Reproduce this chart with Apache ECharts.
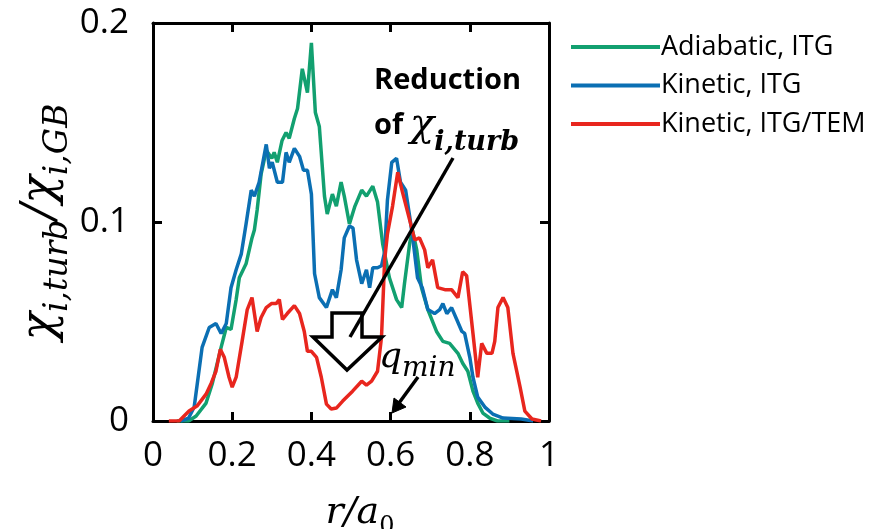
<!DOCTYPE html>
<html><head><meta charset="utf-8">
<script src="https://cdn.jsdelivr.net/npm/echarts@6/dist/echarts.min.js"></script>
<style>html,body{margin:0;background:#fff}#c{width:879px;height:529px}</style>
</head><body><div id="c"></div>
<script>
// ---- data (r/a0 and chi_i,turb/chi_i,GB) ----
const seriesNames = ['Adiabatic, ITG', 'Kinetic, ITG', 'Kinetic, ITG/TEM'];

const rAdiabatic = [0.06,0.09,0.109,0.134,0.15,0.172,0.185,0.197,0.21,0.218,0.235,0.25,0.256,0.263,0.273,0.286,0.3,0.306,0.314,0.326,0.336,0.344,0.357,0.365,0.377,0.39,0.40,0.41,0.42,0.433,0.44,0.453,0.463,0.475,0.483,0.496,0.51,0.527,0.539,0.555,0.567,0.58,0.597,0.615,0.628,0.635,0.648,0.655,0.666,0.678,0.694,0.716,0.732,0.749,0.77,0.782,0.795,0.808,0.82,0.833,0.85,0.87,0.9];
const chiAdiabatic = [0,0,0.0025,0.009,0.019,0.037,0.047,0.046,0.061,0.072,0.079,0.092,0.096,0.106,0.124,0.136,0.132,0.135,0.130,0.141,0.145,0.142,0.152,0.157,0.177,0.165,0.190,0.155,0.148,0.113,0.104,0.114,0.108,0.12,0.113,0.099,0.108,0.116,0.113,0.118,0.11,0.089,0.072,0.061,0.057,0.069,0.089,0.096,0.086,0.067,0.056,0.045,0.04,0.039,0.034,0.029,0.025,0.015,0.009,0.004,0.0015,0,0];

const rKinetic = [0.07,0.09,0.104,0.116,0.124,0.142,0.159,0.172,0.185,0.197,0.21,0.223,0.235,0.248,0.256,0.268,0.286,0.294,0.301,0.314,0.327,0.336,0.344,0.357,0.37,0.38,0.39,0.40,0.408,0.42,0.438,0.453,0.463,0.475,0.483,0.496,0.505,0.514,0.527,0.539,0.547,0.555,0.567,0.577,0.585,0.592,0.603,0.615,0.625,0.638,0.648,0.656,0.668,0.68,0.694,0.711,0.724,0.732,0.742,0.754,0.767,0.78,0.787,0.8,0.808,0.82,0.838,0.858,0.884,0.93,0.96];
const chiKinetic = [0,0.0015,0.007,0.025,0.037,0.047,0.049,0.044,0.049,0.067,0.076,0.084,0.099,0.116,0.113,0.12,0.139,0.127,0.13,0.12,0.12,0.135,0.13,0.137,0.133,0.126,0.126,0.114,0.074,0.062,0.057,0.066,0.062,0.076,0.092,0.098,0.097,0.081,0.069,0.076,0.067,0.077,0.077,0.078,0.085,0.111,0.13,0.132,0.12,0.116,0.103,0.092,0.072,0.067,0.056,0.054,0.056,0.059,0.054,0.057,0.051,0.045,0.044,0.032,0.022,0.012,0.007,0.0035,0.0015,0.001,0];

const rTem = [0.04,0.066,0.091,0.111,0.134,0.147,0.159,0.17,0.18,0.192,0.2,0.21,0.225,0.238,0.25,0.263,0.273,0.286,0.299,0.311,0.319,0.327,0.339,0.357,0.37,0.382,0.39,0.40,0.413,0.425,0.438,0.45,0.463,0.479,0.504,0.527,0.539,0.552,0.567,0.577,0.585,0.592,0.605,0.618,0.63,0.643,0.661,0.673,0.686,0.694,0.706,0.719,0.737,0.754,0.77,0.782,0.792,0.808,0.82,0.83,0.843,0.856,0.863,0.871,0.884,0.896,0.909,0.927,0.939,0.957,0.98];
const chiTem = [0,0,0.005,0.0075,0.0135,0.019,0.025,0.036,0.032,0.022,0.017,0.022,0.04,0.056,0.062,0.045,0.052,0.057,0.059,0.059,0.061,0.051,0.054,0.058,0.054,0.045,0.035,0.035,0.032,0.022,0.0085,0.006,0.0065,0.01,0.015,0.02,0.018,0.02,0.025,0.042,0.081,0.094,0.108,0.125,0.115,0.105,0.091,0.092,0.086,0.077,0.081,0.067,0.066,0.066,0.062,0.075,0.073,0.044,0.022,0.039,0.034,0.034,0.04,0.057,0.062,0.057,0.034,0.017,0.005,0.001,0];

const colors = ['#12a070', '#0b6fb3', '#e8261e'];
// -----------------------------------------------------------------

const zip = (xs, ys) => xs.map((x, i) => [x, ys[i]]);
const seriesData = [zip(rAdiabatic, chiAdiabatic), zip(rKinetic, chiKinetic), zip(rTem, chiTem)];

const chart = echarts.init(document.getElementById('c'), null, {renderer: 'canvas'});
const tickFont = {fontSize: 35, fontFamily: 'Open Sans', color: '#000'};
const axisLine = {show: true, onZero: false, lineStyle: {color: '#000', width: 3}};
const axisTick = {show: true, inside: true, length: 9, lineStyle: {color: '#000', width: 3}};
const serif = 'DejaVu Serif';

chart.setOption({
  animation: false,
  backgroundColor: '#fff',
  color: colors,
  grid: {left: 153, top: 23, width: 396, height: 398, outerBoundsMode: 'none'},
  legend: {
    orient: 'vertical', left: 566, top: 27,
    itemWidth: 89, itemHeight: 4, itemGap: 8.5, icon: 'rect',
    textStyle: {fontSize: 27, fontFamily: 'Open Sans', color: '#000', lineHeight: 30, padding: [0,0,0,-4]},
    data: seriesNames
  },
  xAxis: [{
    type: 'value', min: 0, max: 1, interval: 0.2, position: 'bottom',
    axisLine, axisTick, splitLine: {show: false},
    axisLabel: Object.assign({margin: 18}, tickFont),
    name: '{i|r/a}{s|0}', nameLocation: 'middle', nameGap: 72,
    nameTextStyle: {padding: [0,0,0,18], rich: {
      i: {fontSize: 38, fontFamily: serif, fontStyle: 'italic', color: '#000', lineHeight: 40, verticalAlign: 'middle'},
      s: {fontSize: 24, fontFamily: serif, color: '#000', lineHeight: 20, verticalAlign: 'bottom', padding: [0,0,-6,0]}
    }}
  }, {
    type: 'value', min: 0, max: 1, interval: 0.2, position: 'top',
    axisLine, axisTick, axisLabel: {show: false}, splitLine: {show: false}
  }],
  yAxis: [{
    type: 'value', min: 0, max: 0.2, interval: 0.1, position: 'left',
    axisLine, axisTick, splitLine: {show: false},
    axisLabel: Object.assign({margin: 24}, tickFont),
    name: '{c|χ}{s|i,turb}{c|/}{c|χ}{s|i,GB}', nameLocation: 'middle', nameRotate: 90, nameGap: 89,
    nameTextStyle: {rich: {
      c: {fontSize: 47, fontFamily: serif, fontStyle: 'italic', color: '#000', lineHeight: 46, verticalAlign: 'middle'},
      s: {fontSize: 33, fontFamily: serif, fontStyle: 'italic', color: '#000', lineHeight: 24, verticalAlign: 'bottom', padding: [0,0,-11,0]}
    }}
  }, {
    type: 'value', min: 0, max: 0.2, interval: 0.1, position: 'right',
    axisLine, axisTick, axisLabel: {show: false}, splitLine: {show: false}
  }],
  series: seriesData.map((d, i) => ({
    name: seriesNames[i], type: 'line', data: d, xAxisIndex: 0, yAxisIndex: 0,
    showSymbol: false, symbol: 'none',
    lineStyle: {width: 3.5, color: colors[i]}, itemStyle: {color: colors[i]}
  })),
  graphic: [
    {type: 'polygon', z: 100, shape: {points: [[332,313],[362,313],[362,337],[382,337],[347,370],[313,337],[332,337]]},
      style: {fill: '#fff', stroke: '#000', lineWidth: 3.5, lineJoin: 'miter'}},
    {type: 'line', z: 101, shape: {x1: 453, y1: 158, x2: 350, y2: 337}, style: {stroke: '#000', lineWidth: 3.5}},
    {type: 'text', z: 101, style: {x: 374, y: 81, text: 'Reduction', font: 'bold 29px "Open Sans"', fill: '#000', verticalAlign: 'middle', align: 'left'}},
    {type: 'text', z: 101, style: {x: 374, y: 126, text: 'of', font: 'bold 29px "Open Sans"', fill: '#000', verticalAlign: 'middle', align: 'left'}},
    {type: 'text', z: 101, style: {x: 410, y: 126, text: '{c|χ}{s|i,turb}', verticalAlign: 'middle', align: 'left',
      rich: {
        c: {fontSize: 40, fontFamily: serif, fontStyle: 'italic', fill: '#000', lineHeight: 40, verticalAlign: 'middle'},
        s: {fontSize: 27, fontFamily: serif, fontStyle: 'italic', fontWeight: 'bold', fill: '#000', lineHeight: 22, verticalAlign: 'bottom', padding: [0,0,-10,0]}
      }}},
    {type: 'text', z: 101, style: {x: 379, y: 358, text: '{q|q}{s|min}', verticalAlign: 'middle', align: 'left',
      rich: {
        q: {fontSize: 36, fontFamily: serif, fontStyle: 'italic', fill: '#000', lineHeight: 34, verticalAlign: 'middle'},
        s: {fontSize: 28, fontFamily: serif, fontStyle: 'italic', fill: '#000', lineHeight: 24, verticalAlign: 'bottom', padding: [0,0,-8,0]}
      }}},
    {type: 'line', z: 101, shape: {x1: 418, y1: 377, x2: 399, y2: 403}, style: {stroke: '#000', lineWidth: 3.5}},
    {type: 'polygon', z: 101, shape: {points: [[392,413],[394,398],[406,407]]}, style: {fill: '#000', stroke: '#000', lineWidth: 1}}
  ]
});
</script></body></html>
